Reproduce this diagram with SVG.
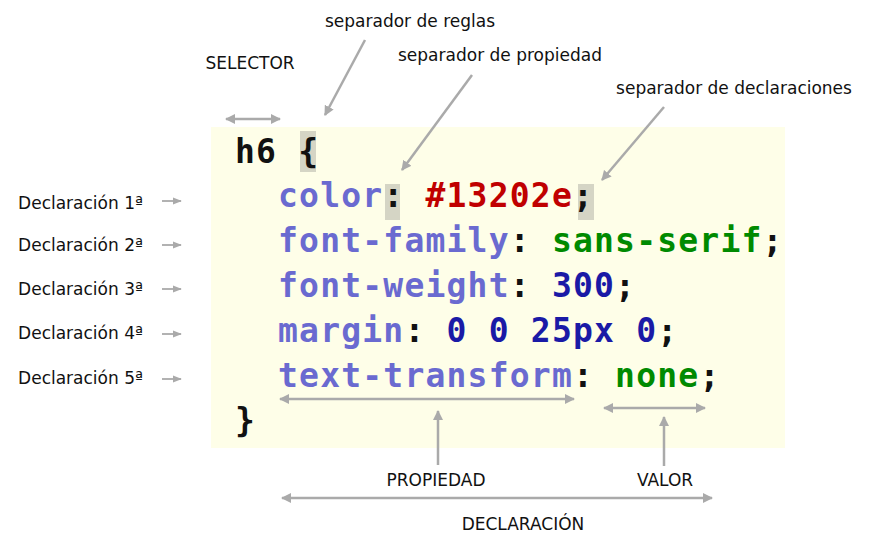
<svg xmlns="http://www.w3.org/2000/svg" width="874" height="549" viewBox="0 0 874 549">
<style>
.lbl{font-family:"DejaVu Sans",Verdana,sans-serif;font-size:17px;fill:#111}
.code{font-family:"DejaVu Sans Mono","Liberation Mono",monospace;font-weight:bold;font-size:33px;letter-spacing:1.2px}
.p{fill:#6a6ad0}.k{fill:#111}.r{fill:#c00000}.g{fill:#008a00}.b{fill:#1a1aa6}
.ar{stroke:#aaa;stroke-width:2.5;fill:none}
.hl{fill:#d5d5c5}
</style>
<defs>
<marker id="ah" viewBox="0 0 10 10" refX="9" refY="5" markerWidth="4" markerHeight="4" orient="auto-start-reverse"><path d="M0,0L10,5L0,10z" fill="#aaa"/></marker>
<marker id="ah2" viewBox="0 0 10 10" refX="9" refY="5" markerWidth="5" markerHeight="5" orient="auto"><path d="M0,1L10,5L0,9z" fill="#aaa"/></marker>
</defs>
<rect x="211" y="127" width="574" height="321" fill="#fefee8"/>
<g id="highlights">
<rect class="hl" x="300" y="131" width="16" height="41"/>
<rect class="hl" x="385" y="184" width="15" height="36"/>
<rect class="hl" x="578" y="184" width="16" height="36"/>
</g>
<g id="code" class="code">
<text x="235" y="163" class="k">h6 {</text>
<text x="278" y="207"><tspan class="p">color</tspan><tspan class="k">: </tspan><tspan class="r">#13202e</tspan><tspan class="k">;</tspan></text>
<text x="278" y="252"><tspan class="p">font-family</tspan><tspan class="k">: </tspan><tspan class="g">sans-serif</tspan><tspan class="k">;</tspan></text>
<text x="278" y="297"><tspan class="p">font-weight</tspan><tspan class="k">: </tspan><tspan class="b">300</tspan><tspan class="k">;</tspan></text>
<text x="278" y="342"><tspan class="p">margin</tspan><tspan class="k">: </tspan><tspan class="b">0 0 25px 0</tspan><tspan class="k">;</tspan></text>
<text x="278" y="387"><tspan class="p">text-transform</tspan><tspan class="k">: </tspan><tspan class="g">none</tspan><tspan class="k">;</tspan></text>
<text x="235" y="432" class="k">}</text>
</g>
<g id="labels" class="lbl">
<text x="250" y="69" text-anchor="middle">SELECTOR</text>
<text x="410" y="27" text-anchor="middle">separador de reglas</text>
<text x="500" y="61" text-anchor="middle">separador de propiedad</text>
<text x="734" y="94" text-anchor="middle">separador de declaraciones</text>
<text x="143" y="209" text-anchor="end">Declaración 1ª</text>
<text x="143" y="251" text-anchor="end">Declaración 2ª</text>
<text x="143" y="295" text-anchor="end">Declaración 3ª</text>
<text x="143" y="339" text-anchor="end">Declaración 4ª</text>
<text x="143" y="384" text-anchor="end">Declaración 5ª</text>
<text x="436" y="486" text-anchor="middle">PROPIEDAD</text>
<text x="665" y="486" text-anchor="middle">VALOR</text>
<text x="523" y="530" text-anchor="middle">DECLARACIÓN</text>
</g>
<g id="connectors" class="ar">
<path d="M226,119H280" marker-start="url(#ah)" marker-end="url(#ah)"/>
<path d="M365,40L325,115" marker-end="url(#ah)"/>
<path d="M472,75L402,170" marker-end="url(#ah)"/>
<path d="M664,107L602,180" marker-end="url(#ah)"/>
<path d="M162,201H181" stroke-width="1.8" marker-end="url(#ah2)"/>
<path d="M162,245H181" stroke-width="1.8" marker-end="url(#ah2)"/>
<path d="M162,289H181" stroke-width="1.8" marker-end="url(#ah2)"/>
<path d="M162,334H181" stroke-width="1.8" marker-end="url(#ah2)"/>
<path d="M162,379H181" stroke-width="1.8" marker-end="url(#ah2)"/>
<path d="M280,399H574" marker-start="url(#ah)" marker-end="url(#ah)"/>
<path d="M438,465V411" marker-end="url(#ah)"/>
<path d="M604,408H705" marker-start="url(#ah)" marker-end="url(#ah)"/>
<path d="M664,466V417" marker-end="url(#ah)"/>
<path d="M282,498H712" marker-start="url(#ah)" marker-end="url(#ah)"/>
</g>
</svg>
